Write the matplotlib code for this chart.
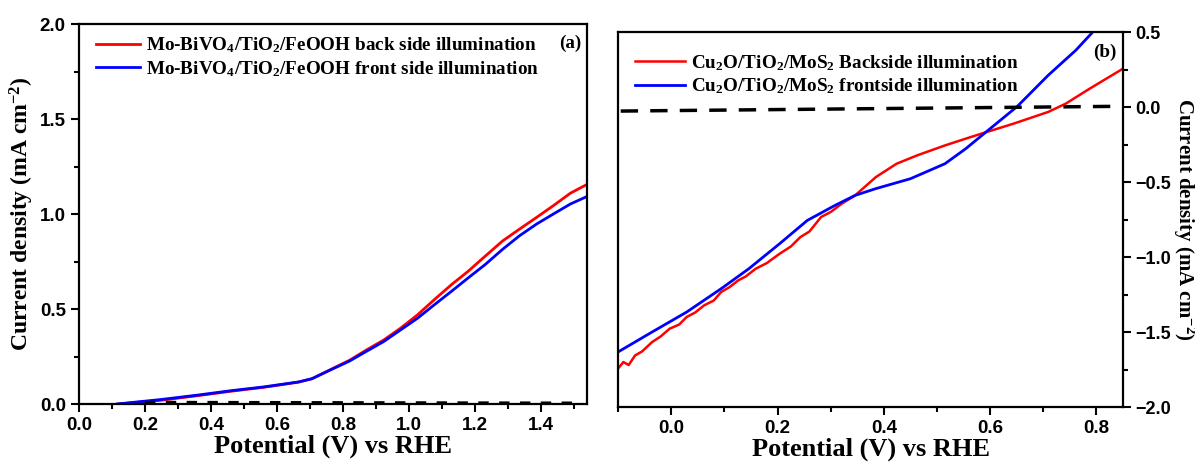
import numpy as np
import matplotlib
matplotlib.use("Agg")
import matplotlib.pyplot as plt
from matplotlib.ticker import MultipleLocator

plt.rcParams['font.family'] = 'Liberation Sans'
plt.rcParams['font.weight'] = 'bold'
plt.rcParams['mathtext.fontset'] = 'custom'
plt.rcParams['mathtext.rm'] = 'Liberation Serif:bold'
plt.rcParams['mathtext.it'] = 'Liberation Serif:bold:italic'
plt.rcParams['mathtext.bf'] = 'Liberation Serif:bold'

# ---- panel (a) data ----
a_back_v = [0.12, 0.25, 0.36, 0.46, 0.56, 0.665, 0.706, 0.768, 0.82, 0.87, 0.923,
            0.974, 1.026, 1.077, 1.129, 1.18, 1.232, 1.284, 1.335, 1.387, 1.438, 1.49, 1.55]
a_back_j = [0.0, 0.02, 0.044, 0.067, 0.088, 0.115, 0.133, 0.186, 0.23, 0.283, 0.336,
            0.398, 0.469, 0.549, 0.628, 0.699, 0.779, 0.858, 0.92, 0.982, 1.044, 1.11, 1.165]
a_front_v = [0.115, 0.25, 0.36, 0.46, 0.56, 0.665, 0.706, 0.768, 0.82, 0.87, 0.923,
             0.974, 1.026, 1.077, 1.129, 1.18, 1.232, 1.284, 1.335, 1.387, 1.438, 1.49, 1.55]
a_front_j = [0.0, 0.024, 0.047, 0.07, 0.09, 0.116, 0.133, 0.184, 0.226, 0.276, 0.328,
             0.389, 0.451, 0.522, 0.593, 0.664, 0.735, 0.814, 0.885, 0.947, 1.0, 1.053, 1.10]
a_dark_v = [0.2, 1.5]
a_dark_j = [0.008, 0.004]

# ---- panel (b) data ----
b_back_v = [-0.1, -0.09, -0.08, -0.068, -0.055, -0.036, -0.02, -0.003, 0.015, 0.029, 0.045,
            0.062, 0.08, 0.094, 0.11, 0.126, 0.14, 0.159, 0.18, 0.204, 0.225, 0.243, 0.26,
            0.282, 0.3, 0.321, 0.346, 0.385, 0.424, 0.463, 0.515, 0.554, 0.593, 0.644,
            0.709, 0.742, 0.787, 0.85]
b_back_j = [-1.744, -1.70, -1.72, -1.656, -1.63, -1.567, -1.53, -1.478, -1.45, -1.40, -1.37,
            -1.322, -1.29, -1.233, -1.20, -1.156, -1.13, -1.078, -1.04, -0.978, -0.93, -0.867, -0.83,
            -0.733, -0.70, -0.644, -0.589, -0.467, -0.378, -0.322, -0.256, -0.211, -0.167, -0.111,
            -0.033, 0.022, 0.122, 0.256]
b_front_v = [-0.1, -0.036, 0.029, 0.094, 0.146, 0.204, 0.256, 0.308, 0.346, 0.385, 0.45,
             0.515, 0.554, 0.6, 0.651, 0.709, 0.761, 0.793, 0.81]
b_front_j = [-1.633, -1.5, -1.367, -1.211, -1.078, -0.911, -0.756, -0.656, -0.589, -0.544, -0.478,
             -0.378, -0.278, -0.144, 0.004, 0.211, 0.378, 0.5, 0.56]
b_dark_v = [-0.095, 0.85]
b_dark_j = [-0.027, 0.005]

label_font = {'family': 'Liberation Serif', 'weight': 'bold', 'size': 19}
ylabel_font = {'family': 'Liberation Serif', 'weight': 'bold', 'size': 17}
rlabel_font = {'family': 'Liberation Serif', 'weight': 'bold', 'size': 15}
legend_font = {'family': 'Liberation Serif', 'weight': 'bold', 'size': 13.8}


def style_axis(ax):
    for sp in ax.spines.values():
        sp.set_linewidth(1.6)
    ax.tick_params(which='major', direction='out', length=6, width=1.5, labelsize=13.5)
    ax.tick_params(which='minor', direction='out', length=3.5, width=1.5)


fig = plt.figure(figsize=(11.95, 4.62), dpi=100)

# panel (a)
ax1 = fig.add_axes([0.0661, 0.1255, 0.4251, 0.8225])
ax1.plot(a_back_v, a_back_j, color='red', lw=2,
         label='Mo-BiVO$_4$/TiO$_2$/FeOOH back side illumination')
ax1.plot(a_front_v, a_front_j, color='blue', lw=2,
         label='Mo-BiVO$_4$/TiO$_2$/FeOOH front side illumination')
ax1.plot(a_dark_v, a_dark_j, color='black', lw=2.5, ls=(0, (3, 3)))
ax1.set_xlim(0, 1.54)
ax1.set_ylim(0, 2.0)
ax1.xaxis.set_major_locator(MultipleLocator(0.2))
ax1.xaxis.set_minor_locator(MultipleLocator(0.1))
ax1.yaxis.set_major_locator(MultipleLocator(0.5))
ax1.yaxis.set_minor_locator(MultipleLocator(0.25))
style_axis(ax1)
ax1.set_xlabel('Potential (V) vs RHE', fontdict=label_font, labelpad=0)
ax1.set_ylabel('Current density (mA cm$^{-2}$)', fontdict=ylabel_font, va='center')
ax1.yaxis.set_label_coords(-0.112, 0.5)
leg = ax1.legend(loc='upper left', bbox_to_anchor=(0.0, 1.015), frameon=False, prop=legend_font,
                 handlelength=2.3, handletextpad=0.3, labelspacing=0.2)
ax1.text(0.967, 0.95, '(a)', transform=ax1.transAxes, ha='center', va='center', **legend_font)

# panel (b)
ax2 = fig.add_axes([0.5172, 0.119, 0.4226, 0.8117])
ax2.plot(b_back_v, b_back_j, color='red', lw=1.8,
         label='Cu$_2$O/TiO$_2$/MoS$_2$ Backside illumination')
ax2.plot(b_front_v, b_front_j, color='blue', lw=2,
         label='Cu$_2$O/TiO$_2$/MoS$_2$ frontside illumination')
ax2.plot(b_dark_v, b_dark_j, color='black', lw=2.5, ls=(0, (5, 3.5)))
ax2.set_xlim(-0.1, 0.85)
ax2.set_ylim(-2.0, 0.5)
ax2.xaxis.set_major_locator(MultipleLocator(0.2))
ax2.xaxis.set_minor_locator(MultipleLocator(0.1))
ax2.yaxis.set_major_locator(MultipleLocator(0.5))
ax2.yaxis.set_minor_locator(MultipleLocator(0.25))
ax2.yaxis.tick_right()
ax2.yaxis.set_label_position('right')
style_axis(ax2)
ax2.tick_params(axis='y', which='major', pad=2.5, labelsize=13)
ax2.set_xlabel('Potential (V) vs RHE', fontdict=label_font, labelpad=0)
ax2.set_ylabel('Current density (mA cm$^{-2}$)', fontdict=rlabel_font, rotation=270,
               va='center', ha='center')
ax2.yaxis.set_label_coords(1.121, 0.5)
ax2.legend(loc='upper left', bbox_to_anchor=(0.0, 0.99), frameon=False, prop=legend_font,
           handlelength=2.6, handletextpad=0.3, labelspacing=0.2)
ax2.text(0.964, 0.947, '(b)', transform=ax2.transAxes, ha='center', va='center', **legend_font)

fig.savefig('out.png', dpi=100)
